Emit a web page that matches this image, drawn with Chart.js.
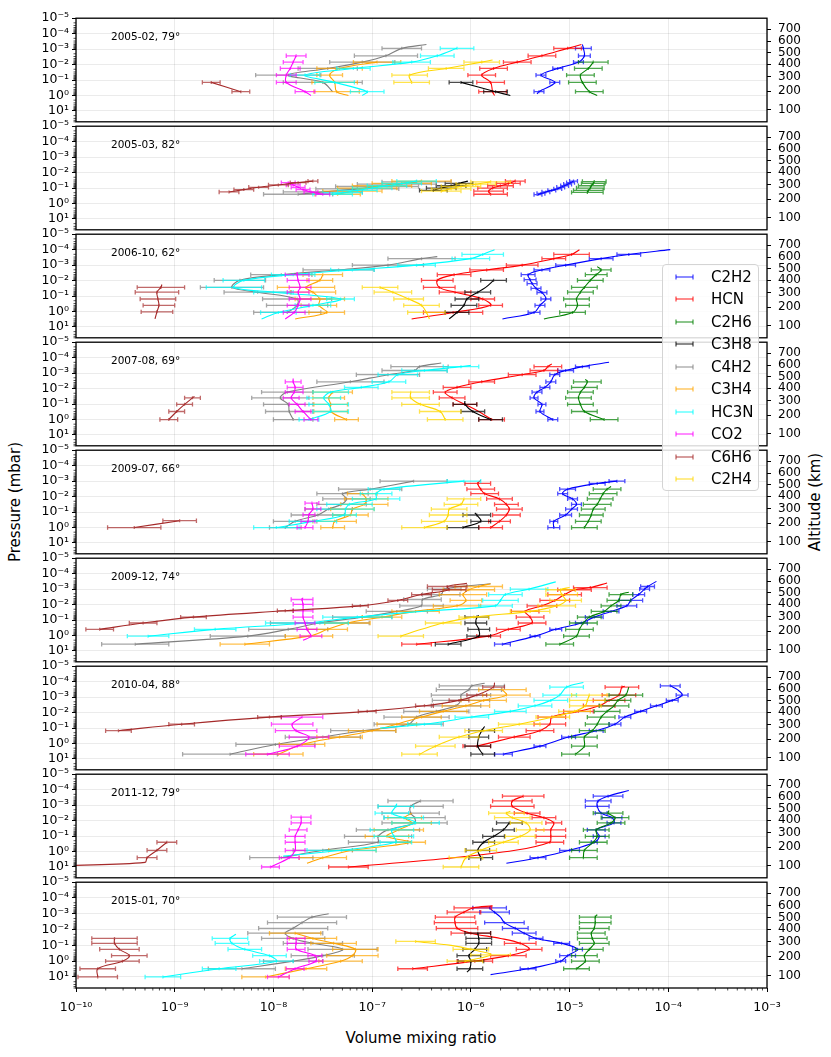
<!DOCTYPE html>
<html>
<head>
<meta charset="utf-8">
<script src="https://cdn.jsdelivr.net/npm/chart.js@4.4.0/dist/chart.umd.min.js"></script>
<style>
  body { margin: 0; width: 831px; height: 1057px; position: relative; overflow: hidden; background: #fff; font-family: "DejaVu Sans", sans-serif; }
  canvas { position: absolute; left: 0; }
  .title { position: absolute; font-size: 15px; white-space: nowrap; color: #000; transform: translate(-50%, -50%); }
  .rot { transform: translate(-50%, -50%) rotate(-90deg); }
  #legend { position: absolute; left: 662px; top: 264px; width: 95px; height: 225px; border: 1px solid #d4d4d4; border-radius: 4px; background: rgba(255,255,255,0.85); z-index: 5; }
  #legend .row { position: absolute; left: 0; height: 18px; width: 95px; }
  #legend svg { position: absolute; left: 12px; top: 6px; }
  #legend .tx { position: absolute; left: 48px; top: 0; font-size: 15px; line-height: 18px; }
</style>
</head>
<body>
<div class="title rot" style="left:15px; top:502px;">Pressure (mbar)</div>
<div class="title rot" style="left:815px; top:502px;">Altitude (km)</div>
<div class="title" style="left:421px; top:1038px;">Volume mixing ratio</div>
<div id="legend"></div>
<script>
const PANEL_LABELS = ['2005-02, 79°', '2005-03, 82°', '2006-10, 62°', '2007-08, 69°', '2009-07, 66°',
                      '2009-12, 74°', '2010-04, 88°', '2011-12, 79°', '2015-01, 70°'];
const SPECIES = ['C2H2', 'HCN', 'C2H6', 'C3H8', 'C4H2', 'C3H4', 'HC3N', 'CO2', 'C6H6', 'C2H4'];
const COLORS = ['#0000ff', '#ff0000', '#008000', '#000000', '#808080', '#ffa500', '#00ffff', '#ff00ff', '#a52a2a', '#ffd700'];

const PRESSURE_TICKS = [1e-5, 1e-4, 1e-3, 1e-2, 1e-1, 1, 10];
const PRESSURE_LABELS = ['10⁻⁵', '10⁻⁴', '10⁻³', '10⁻²', '10⁻¹', '10⁰', '10¹'];
const ALTITUDE_LABELS = ['700', '600', '500', '400', '300', '200', '100'];
const ALTITUDE_LOGP = [-4.3, -3.51, -2.76, -2.02, -1.225, -0.29, 0.93];
const VMR_TICKS = [1e-10, 1e-9, 1e-8, 1e-7, 1e-6, 1e-5, 1e-4, 1e-3];
const VMR_LABELS = ['10⁻¹⁰', '10⁻⁹', '10⁻⁸', '10⁻⁷', '10⁻⁶', '10⁻⁵', '10⁻⁴', '10⁻³'];

// one list per panel: [log10 pressure, log10 vmr, error half-width in decades] (0 = no bar)
const C2H2 = [
  [[-3.3,-4.87,0],[-3.05,-4.86,0.08],[-2.57,-4.85,0.06],[-2.16,-4.91,0.05],[-1.75,-5.12,0.05],[-1.32,-5.29,0.05],[-0.85,-5.15,0.05],[-0.25,-5.31,0.05],[-0.1,-5.33,0]],
  [[-1.45,-4.96,0.04],[-1.35,-4.99,0.04],[-1.25,-5.02,0.04],[-1.15,-5.05,0.04],[-1.05,-5.09,0.04],[-0.95,-5.12,0.04],[-0.85,-5.18,0.04],[-0.75,-5.24,0.04],[-0.65,-5.29,0.04],[-0.58,-5.32,0.04]],
  [[-4.0,-3.98,0],[-3.69,-4.4,0.12],[-3.42,-4.68,0.12],[-3.0,-5.04,0.1],[-2.69,-5.28,0.08],[-2.38,-5.42,0.07],[-2.06,-5.4,0.06],[-1.81,-5.38,0.05],[-1.5,-5.34,0.05],[-1.23,-5.28,0.05],[-0.81,-5.24,0.05],[-0.4,-5.3,0.05],[0.06,-5.36,0.06],[0.48,-5.68,0]],
  [[-3.7,-4.6,0],[-3.42,-4.87,0.07],[-3.17,-5.04,0.08],[-2.9,-5.15,0.05],[-2.44,-5.19,0.05],[-2.08,-5.25,0.05],[-1.77,-5.33,0.05],[-1.4,-5.36,0.04],[-0.98,-5.28,0.04],[-0.52,-5.3,0.04],[0.0,-5.17,0.05]],
  [[-3.0,-4.52,0.08],[-2.85,-4.72,0.08],[-2.48,-5.02,0.08],[-2.19,-5.07,0.05],[-1.85,-4.97,0.05],[-1.5,-4.93,0.05],[-1.19,-4.98,0.06],[-0.81,-5.04,0.06],[-0.4,-5.16,0.04],[0.0,-5.16,0.06]],
  [[-3.5,-4.12,0],[-3.17,-4.21,0.07],[-3.0,-4.24,0.05],[-2.65,-4.3,0.06],[-2.27,-4.38,0.12],[-1.92,-4.42,0.1],[-1.56,-4.58,0.08],[-1.19,-4.75,0.09],[-0.81,-4.88,0.06],[-0.4,-5.14,0.06],[0.04,-5.35,0.05],[0.56,-5.68,0.08]],
  [[-3.73,-3.98,0.1],[-3.45,-3.9,0],[-3.13,-3.86,0.06],[-2.79,-3.96,0.06],[-2.44,-4.12,0.06],[-2.08,-4.28,0.06],[-1.71,-4.44,0.06],[-1.25,-4.54,0.06],[-0.83,-4.73,0.07],[-0.42,-5.01,0.07],[0.17,-5.3,0.06],[0.69,-5.67,0.09]],
  [[-3.94,-4.4,0],[-3.58,-4.61,0.15],[-3.27,-4.71,0.13],[-2.92,-4.72,0.12],[-2.48,-4.68,0.06],[-2.19,-4.57,0.1],[-1.85,-4.55,0.07],[-1.4,-4.73,0.09],[-0.98,-4.7,0.06],[-0.6,-4.75,0.03],[-0.08,-5.0,0.1],[0.4,-5.32,0.08],[0.76,-5.64,0]],
  [[-3.5,-5.8,0],[-3.37,-5.81,0.17],[-3.1,-5.76,0.15],[-2.79,-5.7,0],[-2.44,-5.66,0.2],[-2.08,-5.55,0.13],[-1.77,-5.46,0.12],[-1.44,-5.34,0.07],[-1.13,-5.08,0.08],[-0.75,-4.92,0.05],[-0.35,-5.02,0.08],[0.0,-5.09,0.05],[0.48,-5.42,0.08],[0.85,-5.8,0]]
];
const HCN = [
  [[-3.3,-4.88,0],[-3.05,-5.02,0.14],[-2.57,-5.28,0.14],[-2.16,-5.53,0.14],[-1.75,-5.77,0.14],[-1.32,-5.89,0.14],[-0.85,-5.8,0.14],[-0.25,-5.78,0.14],[0.0,-5.76,0]],
  [[-1.45,-5.55,0.1],[-1.3,-5.62,0.12],[-1.15,-5.7,0.13],[-1.0,-5.78,0.15],[-0.8,-5.82,0.15],[-0.6,-5.8,0.17]],
  [[-4.0,-4.9,0],[-3.69,-4.98,0.18],[-3.42,-5.16,0.12],[-3.0,-5.48,0.16],[-2.69,-5.84,0.17],[-2.38,-6.17,0.17],[-2.02,-6.34,0.16],[-1.56,-6.32,0.16],[-1.25,-6.16,0.16],[-0.81,-5.88,0.12],[-0.4,-5.8,0.12],[0.06,-6.18,0.3],[0.48,-6.6,0]],
  [[-3.6,-5.18,0],[-3.42,-5.22,0.14],[-3.17,-5.26,0.14],[-2.9,-5.48,0.14],[-2.44,-5.89,0.13],[-2.08,-6.14,0.14],[-1.77,-6.26,0.12],[-1.4,-6.19,0.13],[-0.98,-6.06,0.12],[-0.52,-5.92,0],[0.0,-5.79,0.13]],
  [[-3.05,-5.9,0],[-2.85,-5.93,0.13],[-2.48,-5.9,0.14],[-2.19,-5.86,0.14],[-1.85,-5.71,0.13],[-1.5,-5.64,0.12],[-1.19,-5.61,0.13],[-0.81,-5.64,0.14],[-0.4,-5.71,0.11],[0.0,-5.8,0.12]],
  [[-3.4,-4.62,0],[-3.1,-4.79,0.17],[-2.96,-4.95,0.17],[-2.65,-5.05,0.17],[-2.27,-5.15,0.15],[-1.92,-5.28,0.15],[-1.56,-5.45,0.14],[-1.19,-5.4,0.14],[-0.81,-5.38,0.14],[-0.4,-5.62,0.12],[0.04,-5.82,0.12],[0.56,-6.55,0.15]],
  [[-3.7,-4.44,0],[-3.65,-4.47,0.17],[-3.13,-4.5,0.17],[-2.79,-4.6,0.16],[-2.44,-4.7,0.16],[-2.08,-4.91,0.15],[-1.71,-5.18,0.14],[-1.25,-5.2,0.16],[-0.83,-5.3,0.14],[-0.42,-5.56,0.16],[0.17,-5.94,0.14]],
  [[-3.58,-5.47,0.21],[-3.27,-5.58,0.2],[-2.92,-5.58,0.22],[-2.48,-5.43,0.13],[-2.19,-5.26,0.12],[-1.85,-5.16,0.08],[-1.4,-5.19,0.15],[-0.98,-5.19,0.15],[-0.6,-5.2,0.14],[-0.08,-5.55,0],[0.45,-6.25,0],[1.0,-7.24,0.2]],
  [[-3.5,-5.78,0],[-3.37,-5.98,0.19],[-3.1,-6.07,0.17],[-2.79,-6.16,0.2],[-2.44,-6.16,0.21],[-2.08,-6.14,0.21],[-1.77,-6.0,0.2],[-1.44,-5.7,0],[-1.13,-5.5,0.16],[-0.75,-5.41,0.13],[-0.35,-5.62,0.18],[0.0,-5.96,0.18],[0.48,-6.59,0.15]]
];
const C2H6 = [
  [[-2.16,-4.76,0.15],[-1.75,-4.81,0.14],[-1.32,-4.89,0.14],[-0.85,-4.87,0.14],[-0.25,-4.8,0.14],[0.0,-4.72,0]],
  [[-1.42,-4.75,0.12],[-1.3,-4.76,0.12],[-1.15,-4.78,0.13],[-1.0,-4.79,0.14],[-0.85,-4.81,0.15],[-0.72,-4.82,0.16]],
  [[-2.9,-4.72,0],[-2.69,-4.68,0.1],[-2.38,-4.73,0.11],[-2.02,-4.79,0.13],[-1.56,-4.85,0.13],[-1.25,-4.89,0.13],[-0.81,-4.93,0.13],[-0.4,-4.92,0.12],[0.06,-4.97,0.13],[0.48,-5.26,0]],
  [[-2.6,-4.84,0],[-2.44,-4.82,0.14],[-2.08,-4.85,0.13],[-1.77,-4.89,0.13],[-1.4,-4.91,0.13],[-0.98,-4.89,0.13],[-0.52,-4.85,0.13],[0.0,-4.65,0.14]],
  [[-2.65,-4.58,0],[-2.48,-4.62,0.14],[-2.19,-4.66,0.14],[-1.85,-4.69,0.13],[-1.5,-4.72,0.14],[-1.19,-4.76,0.12],[-0.81,-4.78,0.12],[-0.4,-4.81,0.13],[0.0,-4.85,0.13]],
  [[-2.8,-4.4,0],[-2.65,-4.48,0.12],[-2.27,-4.5,0.12],[-1.92,-4.58,0.1],[-1.56,-4.65,0.13],[-1.19,-4.8,0.12],[-0.81,-4.86,0.14],[-0.4,-4.9,0.14],[0.04,-4.93,0.13],[0.56,-5.1,0.14]],
  [[-3.65,-4.4,0],[-3.13,-4.43,0.17],[-2.79,-4.51,0.13],[-2.44,-4.55,0.15],[-2.08,-4.62,0.13],[-1.71,-4.68,0.14],[-1.25,-4.72,0.12],[-0.83,-4.77,0.13],[-0.42,-4.85,0.13],[0.17,-4.85,0.13],[0.69,-4.94,0.14]],
  [[-2.65,-4.6,0],[-2.48,-4.61,0.15],[-2.19,-4.54,0.14],[-1.85,-4.58,0.14],[-1.4,-4.73,0.13],[-0.98,-4.72,0.12],[-0.6,-4.76,0.14],[-0.08,-4.85,0.13],[0.4,-4.86,0.14]],
  [[-2.95,-4.72,0],[-2.79,-4.74,0.16],[-2.44,-4.74,0.16],[-2.08,-4.75,0.15],[-1.77,-4.78,0.14],[-1.44,-4.77,0.15],[-1.13,-4.75,0.15],[-0.75,-4.8,0.14],[-0.35,-4.85,0.13],[0.0,-4.84,0.14],[0.48,-4.93,0.13]]
];
const C3H8 = [
  [[-0.85,-6.1,0.12],[-0.25,-5.75,0.12],[0.0,-5.6,0]],
  [[-1.45,-6.03,0],[-1.3,-6.12,0.14],[-1.15,-6.2,0.15],[-1.0,-6.3,0.15],[-0.85,-6.38,0.14]],
  [[-2.02,-5.77,0.13],[-1.56,-5.85,0],[-1.25,-5.93,0.13],[-0.81,-6.04,0.12],[-0.4,-6.07,0.13],[0.06,-6.14,0.12],[0.48,-6.22,0]],
  [[-1.2,-6.06,0],[-0.98,-6.06,0.12],[-0.52,-5.98,0.12],[0.0,-5.8,0.12]],
  [[-0.95,-5.96,0],[-0.81,-5.94,0.14],[-0.4,-5.9,0.1],[0.0,-6.08,0.16]],
  [[-1.3,-5.92,0],[-1.19,-5.94,0.12],[-0.81,-5.95,0.11],[-0.4,-5.92,0.11],[0.04,-5.92,0.12],[0.56,-6.23,0.13]],
  [[-1.1,-5.86,0],[-0.83,-5.89,0.13],[-0.42,-5.92,0.1],[0.17,-5.93,0.13],[0.69,-5.88,0.12]],
  [[-1.85,-5.61,0.13],[-1.4,-5.67,0.11],[-0.98,-5.77,0.11],[-0.6,-5.87,0.11],[-0.08,-5.93,0.12],[0.4,-5.9,0.12],[0.6,-5.9,0]],
  [[-1.77,-5.93,0.13],[-1.44,-5.92,0.13],[-1.13,-5.92,0.13],[-0.75,-5.96,0.12],[-0.35,-6.02,0.12],[0.0,-6.0,0.13],[0.48,-6.01,0.13],[0.7,-6.04,0]]
];
const C4H2 = [
  [[-3.3,-6.45,0],[-3.05,-6.7,0.2],[-2.57,-6.86,0.32],[-2.16,-7.1,0.33],[-1.75,-7.45,0.3],[-1.32,-7.85,0.33],[-0.85,-7.5,0.4],[-0.25,-7.4,0]],
  [[-1.4,-6.55,0.35],[-1.25,-6.75,0.4],[-1.1,-6.95,0.42],[-0.95,-7.15,0.42],[-0.75,-7.5,0.4],[-0.6,-7.75,0.35]],
  [[-3.55,-6.34,0],[-3.42,-6.5,0.34],[-3.0,-6.84,0.36],[-2.69,-7.34,0.36],[-2.38,-7.92,0.31],[-2.02,-8.34,0.26],[-1.56,-8.42,0.32],[-1.25,-8.16,0.34],[-0.81,-7.76,0.35],[-0.4,-7.76,0.31],[0.06,-7.86,0.34]],
  [[-3.65,-6.3,0],[-3.42,-6.52,0.29],[-3.17,-6.57,0.33],[-2.9,-6.84,0.32],[-2.44,-7.22,0.34],[-1.77,-7.86,0.26],[-1.4,-7.93,0.29],[-0.98,-7.85,0.25],[-0.52,-7.84,0.24],[0.0,-7.8,0.2]],
  [[-3.0,-6.58,0.34],[-2.48,-7.02,0.32],[-2.19,-7.3,0.26],[-1.85,-7.26,0.24],[-1.5,-7.31,0.25],[-1.19,-7.44,0.24],[-0.81,-7.55,0.27],[-0.4,-7.78,0.22],[0.0,-7.88,0.16]],
  [[-3.35,-5.8,0],[-3.0,-6.27,0.17],[-2.65,-6.3,0.19],[-2.33,-6.49,0.19],[-1.92,-6.5,0.22],[-1.56,-6.75,0.31],[-1.19,-7.1,0.3],[-0.81,-7.53,0.5],[-0.4,-7.85,0.4],[0.04,-8.26,0.38],[0.56,-9.4,0.34]],
  [[-3.9,-5.86,0],[-3.73,-5.99,0.33],[-3.48,-6.02,0.33],[-3.13,-6.1,0.3],[-2.79,-6.1,0.29],[-2.44,-6.15,0.25],[-2.08,-6.35,0.33],[-1.71,-6.55,0.33],[-1.25,-6.63,0.35],[-0.83,-7.09,0.33],[-0.42,-7.5,0.38],[0.06,-7.98,0.4],[0.69,-8.44,0.48]],
  [[-3.27,-6.51,0.33],[-2.92,-6.61,0.33],[-2.48,-6.61,0.29],[-2.19,-6.57,0.31],[-1.85,-6.57,0.33],[-1.4,-6.84,0.32],[-0.98,-6.94,0.34],[-0.6,-6.94,0.3],[-0.08,-7.5,0.3],[0.4,-7.92,0.32]],
  [[-3.0,-7.44,0],[-2.79,-7.61,0.35],[-2.44,-7.71,0.35],[-2.08,-7.8,0.35],[-1.77,-7.88,0.38],[-1.44,-7.8,0.32],[-1.13,-7.6,0.3],[-0.75,-7.3,0.35],[-0.35,-7.5,0.32],[0.0,-7.8,0.3],[0.48,-8.32,0.34]]
];
const C3H4 = [
  [[-2.16,-6.95,0.24],[-1.75,-7.33,0.23],[-1.32,-7.43,0.13],[-0.85,-7.38,0.23],[-0.25,-7.36,0.23],[0.0,-7.24,0]],
  [[-1.45,-6.5,0.3],[-1.3,-6.7,0.3],[-1.15,-6.9,0.3],[-1.0,-7.05,0.3],[-0.8,-7.2,0.3],[-0.6,-7.35,0.23]],
  [[-2.38,-7.5,0.2],[-2.02,-7.53,0.13],[-1.56,-7.67,0.29],[-1.25,-7.6,0.23],[-0.81,-7.53,0.25],[-0.4,-7.54,0.18],[0.06,-7.46,0.18],[0.48,-7.78,0]],
  [[-1.77,-7.4,0.2],[-1.4,-7.44,0.16],[-0.98,-7.42,0.17],[-0.52,-7.42,0.17],[0.0,-7.26,0.12]],
  [[-2.19,-7.1,0.15],[-1.85,-7.06,0.22],[-1.5,-7.08,0.24],[-1.19,-7.2,0.22],[-0.81,-7.22,0.18],[-0.4,-7.38,0.22],[0.0,-7.4,0.12]],
  [[-3.35,-5.8,0],[-3.17,-5.92,0.24],[-2.96,-6.02,0.26],[-2.65,-6.08,0.24],[-2.27,-6.05,0.16],[-1.92,-6.14,0.24],[-1.56,-6.56,0.24],[-1.19,-6.9,0.2],[-0.81,-7.25,0.23],[-0.4,-7.45,0.2],[0.04,-7.64,0.24],[0.56,-8.29,0.25]],
  [[-3.48,-5.68,0.24],[-3.13,-5.64,0.24],[-2.79,-5.87,0.23],[-2.44,-6.05,0.24],[-2.08,-6.28,0.24],[-1.71,-6.5,0.2],[-1.25,-6.75,0.2],[-0.83,-7.0,0.24],[-0.42,-7.33,0.23],[0.06,-7.71,0.23],[0.69,-7.95,0.25]],
  [[-2.48,-6.6,0],[-2.19,-6.67,0.17],[-1.85,-6.6,0.2],[-1.4,-6.73,0.25],[-0.98,-6.85,0.22],[-0.6,-6.61,0.15],[-0.08,-7.2,0.24],[0.4,-7.5,0.24],[0.76,-7.66,0]],
  [[-1.77,-7.78,0.26],[-1.44,-7.6,0.24],[-1.13,-7.39,0.23],[-0.75,-7.17,0.23],[-0.35,-7.2,0.26],[0.0,-7.32,0.22],[0.48,-7.67,0.21],[1.0,-8.08,0.24]]
];
const HC3N = [
  [[-3.05,-6.14,0.17],[-2.57,-6.34,0.17],[-2.16,-6.6,0.19],[-1.75,-7.19,0.17],[-1.32,-7.68,0.15],[-0.85,-7.38,0.2],[-0.25,-7.05,0.17],[0.0,-7.1,0]],
  [[-1.45,-6.55,0.2],[-1.3,-6.7,0.2],[-1.15,-6.85,0.2],[-1.0,-7.0,0.2],[-0.85,-7.15,0.2],[-0.7,-7.3,0.2],[-0.6,-7.4,0.2]],
  [[-4.0,-5.76,0],[-3.69,-5.88,0.21],[-3.42,-6.0,0.19],[-3.0,-6.55,0.19],[-2.69,-7.2,0.22],[-2.38,-7.8,0.22],[-2.02,-8.3,0.21],[-1.56,-8.4,0.28],[-1.25,-8.0,0.2],[-0.81,-7.32,0.14],[-0.4,-7.6,0.18],[0.06,-7.95,0.18],[0.48,-8.12,0]],
  [[-3.5,-6.0,0],[-3.42,-6.1,0.18],[-3.17,-6.47,0.23],[-2.9,-6.74,0.2],[-2.44,-6.83,0.17],[-2.08,-7.11,0.17],[-1.77,-7.42,0.18],[-1.4,-7.49,0.17],[-0.98,-7.44,0.2],[-0.52,-7.42,0.18],[0.0,-7.64,0.1]],
  [[-3.0,-6.07,0.17],[-2.48,-6.88,0.16],[-2.19,-6.96,0.16],[-1.85,-6.96,0.24],[-1.5,-7.23,0.23],[-1.19,-7.27,0.29],[-0.81,-7.28,0.12],[-0.4,-7.6,0.24],[0.0,-7.97,0.23]],
  [[-3.47,-5.14,0],[-3.0,-5.41,0.19],[-2.65,-5.65,0.17],[-2.27,-5.7,0.18],[-1.92,-5.75,0.17],[-1.56,-6.5,0],[-1.19,-7.15,0.35],[-0.81,-7.66,0.42],[-0.4,-8.59,0.21],[0.04,-9.27,0.21]],
  [[-3.95,-4.86,0],[-3.65,-5.03,0.17],[-3.13,-5.1,0.17],[-2.79,-5.19,0.17],[-2.44,-5.35,0.17],[-2.08,-5.6,0.16],[-1.71,-5.99,0.17],[-1.25,-6.47,0.17],[-1.0,-6.92,0]],
  [[-3.1,-6.75,0],[-2.92,-6.76,0.18],[-2.48,-6.8,0.17],[-2.19,-6.68,0.2],[-1.85,-6.56,0.24],[-1.4,-6.8,0.22],[-0.98,-6.78,0.2],[-0.6,-6.76,0.16],[-0.08,-7.31,0.35],[0.3,-7.9,0]],
  [[-1.7,-8.38,0],[-1.44,-8.44,0.18],[-1.13,-8.42,0.17],[-0.75,-8.29,0.17],[-0.35,-8.04,0.17],[0.0,-7.97,0.17],[0.48,-8.55,0.17],[1.0,-9.12,0.18]]
];
const CO2 = [
  [[-2.57,-7.77,0.1],[-2.16,-7.8,0.1],[-1.75,-7.83,0.1],[-1.32,-7.87,0.1],[-0.85,-7.87,0.1],[-0.25,-7.68,0.1],[0.0,-7.62,0]],
  [[-1.35,-7.85,0.07],[-1.2,-7.8,0.07],[-1.05,-7.75,0.07],[-0.9,-7.7,0.07],[-0.75,-7.62,0.07],[-0.6,-7.5,0.07]],
  [[-2.55,-7.76,0],[-2.38,-7.76,0.12],[-2.02,-7.75,0.11],[-1.56,-7.73,0.11],[-1.25,-7.75,0.11],[-0.81,-7.73,0.11],[-0.4,-7.75,0.11],[0.06,-7.79,0.11],[0.48,-7.88,0]],
  [[-2.65,-7.8,0],[-2.44,-7.8,0.08],[-2.08,-7.78,0.08],[-1.77,-7.79,0.09],[-1.4,-7.82,0.08],[-0.98,-7.76,0.08],[-0.52,-7.7,0.08],[0.0,-7.62,0.07]],
  [[-1.58,-7.61,0.07],[-1.2,-7.6,0.08],[-0.83,-7.64,0.06],[-0.4,-7.65,0.07],[0.0,-7.68,0.08]],
  [[-2.45,-7.7,0],[-2.33,-7.71,0.11],[-2.02,-7.7,0.1],[-1.6,-7.7,0.1],[-1.19,-7.7,0.1],[-0.81,-7.68,0.1],[-0.4,-7.66,0.1],[0.04,-7.62,0.11],[0.3,-7.7,0]],
  [[-1.71,-7.71,0.21],[-1.25,-7.81,0.21],[-0.83,-7.77,0.21],[-0.42,-7.64,0.2],[0.17,-7.76,0.18],[0.69,-8.06,0.22]],
  [[-2.23,-7.72,0.1],[-1.85,-7.72,0.1],[-1.4,-7.75,0.09],[-0.98,-7.78,0.1],[-0.6,-7.78,0.1],[-0.08,-7.78,0.1],[0.4,-7.84,0.1],[1.0,-8.03,0.09]],
  [[-1.44,-7.77,0.09],[-1.13,-7.77,0.09],[-0.75,-7.77,0.09],[-0.35,-7.58,0.07],[0.0,-7.57,0.07],[0.48,-7.78,0.09],[1.0,-7.95,0.11]]
];
const C6H6 = [
  [[-0.85,-8.63,0.09],[-0.25,-8.33,0.09]],
  [[-1.45,-7.6,0.05],[-1.35,-7.75,0.08],[-1.2,-7.95,0.1],[-1.05,-8.15,0.1],[-0.9,-8.3,0.1],[-0.75,-8.45,0.1]],
  [[-1.75,-9.13,0],[-1.56,-9.14,0.24],[-1.25,-9.18,0.22],[-0.81,-9.17,0.18],[-0.4,-9.16,0.16],[0.02,-9.18,0.16],[0.48,-9.2,0]],
  [[-1.5,-8.8,0],[-1.4,-8.82,0.08],[-0.98,-8.9,0.08],[-0.52,-8.98,0.08],[0.0,-9.06,0.09]],
  [[-0.44,-8.95,0.17],[0.0,-9.41,0.27]],
  [[-3.37,-6.04,0],[-3.17,-6.24,0.2],[-2.96,-6.22,0.17],[-2.65,-6.5,0.1],[-2.27,-6.74,0.1],[-1.92,-7.12,0.08],[-1.6,-7.88,0.08],[-1.19,-8.81,0.13],[-0.81,-9.32,0.14],[-0.4,-9.76,0.14]],
  [[-3.94,-5.76,0],[-3.65,-5.77,0.11],[-3.13,-5.94,0.1],[-2.79,-6.12,0.1],[-2.44,-6.47,0.09],[-2.08,-7.05,0.09],[-1.71,-8.04,0.12],[-1.25,-8.93,0.13],[-0.83,-9.57,0.13]],
  [[-0.6,-9.08,0.1],[-0.08,-9.18,0.1],[0.4,-9.28,0.1],[0.7,-9.3,0],[0.92,-10.1,0]],
  [[-1.44,-9.61,0.23],[-1.13,-9.61,0.23],[-0.75,-9.56,0.2],[-0.35,-9.46,0.18],[0.0,-9.53,0.17],[0.48,-9.78,0.18],[1.0,-9.78,0.2]]
];
const C2H4 = [
  [[-2.3,-5.78,0],[-2.16,-5.89,0.18],[-1.75,-6.25,0.18],[-1.32,-6.62,0.18],[-0.85,-6.6,0.18]],
  [[-1.4,-5.8,0.2],[-1.25,-5.95,0.2],[-1.1,-6.1,0.2],[-0.95,-6.2,0.2],[-0.8,-6.3,0.2]],
  [[-1.56,-6.92,0.18],[-1.25,-6.79,0.19],[-0.81,-6.63,0.15],[-0.4,-6.5,0.18],[0.06,-6.45,0.19],[0.48,-6.42,0]],
  [[-1.77,-6.61,0.19],[-1.4,-6.61,0.19],[-0.98,-6.51,0.19],[-0.52,-6.31,0.21],[0.0,-6.26,0.18]],
  [[-1.85,-6.07,0.17],[-1.5,-6.1,0.17],[-1.19,-6.22,0.18],[-0.81,-6.23,0.19],[-0.4,-6.27,0.23],[0.0,-6.47,0.23]],
  [[-3.1,-5.0,0],[-2.96,-5.09,0.15],[-2.65,-5.08,0.16],[-2.27,-5.04,0.16],[-1.92,-5.13,0.19],[-1.56,-5.4,0.2],[-1.19,-5.97,0.15],[-0.81,-6.28,0.18],[-0.4,-6.5,0],[0.04,-6.71,0.23]],
  [[-3.13,-4.8,0.18],[-2.79,-4.82,0.18],[-2.44,-4.84,0.16],[-2.08,-4.95,0.16],[-1.71,-5.17,0.17],[-1.25,-5.51,0.21],[-0.83,-5.87,0.19],[-0.42,-6.12,0.2],[0.17,-6.36,0.2],[0.69,-6.52,0.18]],
  [[-2.6,-5.6,0],[-2.48,-5.64,0.18],[-2.19,-5.58,0.18],[-1.85,-5.44,0.16],[-1.4,-5.4,0.14],[-0.98,-5.5,0.15],[-0.6,-5.67,0.15],[-0.08,-5.9,0.16],[0.4,-6.05,0.17],[1.0,-6.1,0.18]],
  [[-1.25,-6.56,0.2],[-1.0,-6.2,0],[-0.75,-6.0,0.18],[-0.4,-5.8,0.2],[0.0,-6.06,0.18]]
];

const PROFILES = [C2H2, HCN, C2H6, C3H8, C4H2, C3H4, HC3N, CO2, C6H6, C2H4];

const TOP = 16, PH = 108, PAD = 12, W = 831;
const pow10 = v => Math.pow(10, v);

Chart.defaults.font.family = '"DejaVu Sans", sans-serif';
Chart.defaults.color = '#000';

// horizontal error bars drawn right after each profile line
const errorBars = {
  id: 'errorBars',
  afterDatasetDraw(chart, args) {
    const ds = chart.data.datasets[args.index];
    const xs = chart.scales.x, ys = chart.scales.y, a = chart.chartArea, ctx = chart.ctx;
    ctx.save();
    ctx.beginPath();
    ctx.rect(a.left, a.top, a.right - a.left, a.bottom - a.top);
    ctx.clip();
    ctx.strokeStyle = ds.borderColor;
    ctx.globalAlpha = 0.7;
    ctx.lineWidth = 1.3;
    ctx.beginPath();
    ds.rows.forEach(r => {
      if (!r[2]) return;
      const y = ys.getPixelForValue(pow10(r[0]));
      const x1 = xs.getPixelForValue(pow10(r[1] - r[2]));
      const x2 = xs.getPixelForValue(pow10(r[1] + r[2]));
      const xc = xs.getPixelForValue(pow10(r[1]));
      ctx.moveTo(x1, y); ctx.lineTo(x2, y);
      ctx.moveTo(x1, y - 2.2); ctx.lineTo(x1, y + 2.2);
      ctx.moveTo(x2, y - 2.2); ctx.lineTo(x2, y + 2.2);
      ctx.moveTo(xc, y - 1.5); ctx.lineTo(xc, y + 1.5);
    });
    ctx.stroke();
    ctx.restore();
  }
};

// frame, minor ticks and panel label
const frame = {
  id: 'frame',
  afterDraw(chart, args, opts) {
    const a = chart.chartArea, ctx = chart.ctx;
    const ys = chart.scales.y, xs = chart.scales.x;
    ctx.save();
    ctx.strokeStyle = '#000';
    ctx.lineWidth = 0.7;
    ctx.beginPath();
    for (let d = -5; d <= 1; d++) {
      for (let m = 2; m <= 9; m++) {
        const v = m * pow10(d);
        if (v > 50) continue;
        const y = ys.getPixelForValue(v);
        ctx.moveTo(a.left - 2.5, y); ctx.lineTo(a.left, y);
      }
    }
    if (opts.bottom) {
      for (let d = -10; d < -3; d++) {
        for (let m = 2; m <= 9; m++) {
          const x = xs.getPixelForValue(m * pow10(d));
          ctx.moveTo(x, a.bottom); ctx.lineTo(x, a.bottom + 2.5);
        }
      }
    }
    ctx.stroke();
    ctx.lineWidth = 1.3;
    ctx.strokeRect(a.left, a.top, a.right - a.left, a.bottom - a.top);
    ctx.fillStyle = '#000';
    ctx.font = '10.5px "DejaVu Sans"';
    ctx.textBaseline = 'alphabetic';
    ctx.fillText(opts.label, 111, a.top + 22);
    ctx.restore();
  }
};

PANEL_LABELS.forEach((label, i) => {
  const last = i === PANEL_LABELS.length - 1;
  const h = PAD + PH + (last ? 34 : PAD);
  const cv = document.createElement('canvas');
  cv.width = W;
  cv.height = h;
  cv.style.width = W + 'px';
  cv.style.height = h + 'px';
  cv.style.top = (TOP + i * PH - PAD) + 'px';
  document.body.appendChild(cv);

  const datasets = PROFILES.map((p, k) => ({
    label: SPECIES[k],
    data: p[i].map(r => ({ x: pow10(r[1]), y: pow10(r[0]) })),
    rows: p[i],
    borderColor: COLORS[k],
    borderWidth: 1.1,
    pointRadius: 0,
    tension: 0.35,
    fill: false,
    order: SPECIES.length - k
  }));

  new Chart(cv.getContext('2d'), {
    type: 'line',
    data: { datasets },
    options: {
      responsive: false,
      animation: false,
      events: [],
      layout: { padding: { top: PAD, bottom: last ? 0 : PAD, left: 0, right: 0 } },
      plugins: {
        legend: { display: false },
        tooltip: { enabled: false },
        frame: { label, bottom: last }
      },
      scales: {
        x: {
          type: 'logarithmic', position: 'bottom', min: 1e-10, max: 1e-3,
          afterBuildTicks: s => { s.ticks = VMR_TICKS.map(v => ({ value: v })); },
          afterFit: s => { s.height = last ? 34 : 0; },
          ticks: { display: last, autoSkip: false, maxRotation: 0, padding: 8, font: { size: 12.5 },
                   callback: (v, idx) => VMR_LABELS[idx] },
          grid: { color: 'rgba(0,0,0,0.1)', lineWidth: 0.8, drawTicks: last, tickLength: 4, tickColor: '#000', tickWidth: 1 },
          border: { display: false }
        },
        y: {
          type: 'logarithmic', position: 'left', min: 1e-5, max: 50, reverse: true,
          afterBuildTicks: s => { s.ticks = PRESSURE_TICKS.map(v => ({ value: v })); },
          afterFit: s => { s.width = 76; },
          ticks: { autoSkip: false, padding: 3, font: { size: 12.5 },
                   callback: (v, idx) => PRESSURE_LABELS[idx] },
          grid: { color: 'rgba(0,0,0,0.1)', lineWidth: 0.8, tickLength: 4, tickColor: '#000', tickWidth: 1 },
          border: { display: false }
        },
        alt: {
          type: 'logarithmic', position: 'right', min: 1e-5, max: 50, reverse: true,
          afterBuildTicks: s => { s.ticks = ALTITUDE_LOGP.map(v => ({ value: pow10(v) })); },
          afterFit: s => { s.width = 64; },
          ticks: { autoSkip: false, padding: 7, font: { size: 12 },
                   callback: (v, idx) => ALTITUDE_LABELS[idx] },
          grid: { drawOnChartArea: false, tickLength: 4, color: '#000', tickColor: '#000', tickWidth: 1 },
          border: { display: false }
        }
      }
    },
    plugins: [errorBars, frame]
  });
});

// legend
const legend = document.getElementById('legend');
SPECIES.forEach((name, k) => {
  const row = document.createElement('div');
  row.className = 'row';
  row.style.top = (3 + k * 22.45) + 'px';
  row.innerHTML =
    '<svg width="20" height="6"><g stroke="' + COLORS[k] + '" stroke-opacity="0.7" stroke-width="1.3">' +
    '<line x1="1" y1="3" x2="18" y2="3"/><line x1="1" y1="0.5" x2="1" y2="5.5"/><line x1="18" y1="0.5" x2="18" y2="5.5"/></g></svg>' +
    '<span class="tx">' + name + '</span>';
  legend.appendChild(row);
});
</script>
</body>
</html>
